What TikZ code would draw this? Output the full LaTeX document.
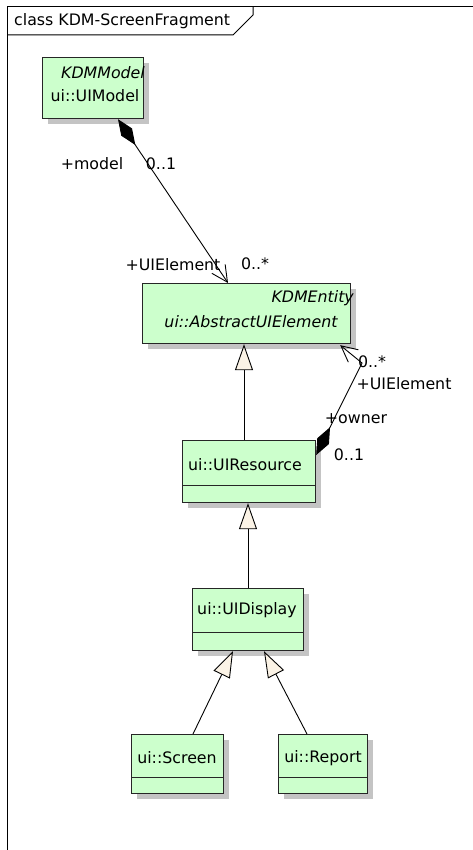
\documentclass[tikz,border=0pt]{standalone}
\usepackage{fontspec}
\setmainfont{DejaVu Sans}
\usetikzlibrary{arrows.meta,shadows,calc}
\definecolor{boxfill}{HTML}{CCFFCC}
\definecolor{trifill}{HTML}{FBF3E6}
\definecolor{shadowgray}{HTML}{C4C4C4}
\begin{document}
\begin{tikzpicture}[x=1pt,y=-1pt,
  umlbox/.style={draw=black!85, line width=1.2pt, fill=boxfill,
    drop shadow={shadow xshift=5pt,shadow yshift=-5pt,fill=shadowgray,opacity=1},
    anchor=north west, inner sep=0pt},
  boxline/.style={draw=black!85, line width=1.2pt},
  txt/.style={font=\fontsize{15.8}{18}\selectfont, inner sep=0pt},
  itxt/.style={font=\fontsize{15.8}{18}\selectfont\itshape, inner sep=0pt},
  conn/.style={line width=0.9pt, black},
  gen/.style={conn, -{Triangle[length=26pt,width=18pt,fill=trifill,line width=0.9pt]}},
  comp/.style={conn, {Diamond[length=31pt,width=13pt,fill=black]}-{Straight Barb[length=16pt,width=16pt,line width=0.9pt]}},
  frameline/.style={line width=1pt, black}
]
\useasboundingbox (0,0) rectangle (473,850);

% frame
\draw[frameline] (473,7) -- (7,7) -- (7,850);
\draw[frameline] (7,35) -- (233,35) -- (253,15) -- (253,7);
\node[txt, anchor=west] (title) at (14,21) {class KDM-ScreenFragment};

% boxes
\node[umlbox, minimum width=101pt, minimum height=61pt] (model) at (42,57) {};
\node[itxt, anchor=east] (modelst) at (145,73) {KDMModel};
\node[txt] (modelname) at (95,96) {ui::UIModel};

\node[umlbox, minimum width=208pt, minimum height=60pt] (absel) at (142,283) {};
\node[itxt, anchor=east] (abselst) at (354,298) {KDMEntity};
\node[itxt] (abselname) at (251,322) {ui::AbstractUIElement};

\node[umlbox, minimum width=133pt, minimum height=62pt] (res) at (182,440) {};
\draw[boxline] ([yshift=18pt]res.south west) -- ([yshift=18pt]res.south east);
\node[txt] (resname) at (245,465) {ui::UIResource};

\node[umlbox, minimum width=111pt, minimum height=62pt] (disp) at (192,588) {};
\draw[boxline] ([yshift=19pt]disp.south west) -- ([yshift=19pt]disp.south east);
\node[txt] (dispname) at (247,610) {ui::UIDisplay};

\node[umlbox, minimum width=92pt, minimum height=59pt] (scr) at (131,734) {};
\draw[boxline] ([yshift=17pt]scr.south west) -- ([yshift=17pt]scr.south east);
\node[txt] (scrname) at (177,758) {ui::Screen};

\node[umlbox, minimum width=89pt, minimum height=59pt] (rep) at (278,734) {};
\draw[boxline] ([yshift=17pt]rep.south west) -- ([yshift=17pt]rep.south east);
\node[txt] (repname) at (323,758) {ui::Report};

% composition UIModel -> AbstractUIElement
\draw[comp] ($(model.south west)+(76,0)$) -- ($(absel.north west)+(86,0)$);
\node[txt] (l1) at (92,164) {+model};
\node[txt] (l2) at (161,164) {0..1};
\node[txt] (l3) at (173,265) {+UIElement};
\node[txt] (l4) at (255,264) {0..*};

% composition UIResource -> AbstractUIElement
\coordinate (bend) at (362,363);
\draw[comp] ($(res.north east)+(0,15)$) -- (bend) -- ($(absel.south east)+(-11,1)$);
\node[txt] (l5) at (372,362) {0..*};
\node[txt] (l6) at (404,384) {+UIElement};
\node[txt] (l7) at (356,419) {+owner};
\node[txt] (l8) at (349,455) {0..1};

% generalizations
\draw[gen] ($(res.north west)+(62,0)$) -- ($(absel.south west)+(102,0)$);
\draw[gen] ($(disp.north west)+(56,0)$) -- ($(res.south west)+(66,0)$);
\draw[gen] ($(scr.north west)+(62,0)$) -- ($(disp.south west)+(41,0)$);
\draw[gen] ($(rep.north west)+(29,0)$) -- ($(disp.south west)+(72,0)$);
\end{tikzpicture}
\end{document}
